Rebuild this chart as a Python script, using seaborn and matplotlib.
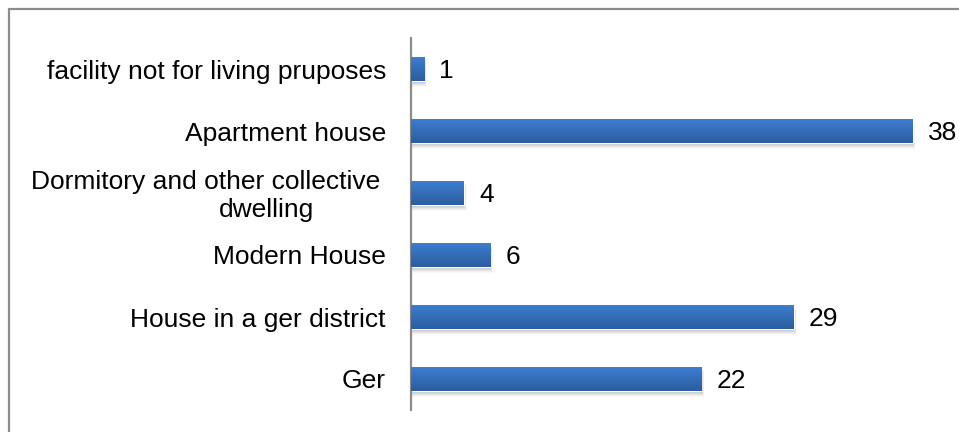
import numpy as np
import pandas as pd
import matplotlib
matplotlib.use("Agg")
import matplotlib.pyplot as plt
import seaborn as sns
from matplotlib.patches import Rectangle
from matplotlib.lines import Line2D
from matplotlib.colors import LinearSegmentedColormap

categories = [
    "facility not for living pruposes",
    "Apartment house",
    "Dormitory and other collective dwelling",
    "Modern House",
    "House in a ger district",
    "Ger",
]
values = [1, 38, 4, 6, 29, 22]

df = pd.DataFrame({"category": categories, "value": values})

sns.set_theme(style="white")
plt.rcParams["font.family"] = ["Liberation Sans", "DejaVu Sans"]

FS = 19
W, H = 959, 432
fig = plt.figure(figsize=(W / 100, H / 100), dpi=100)
ax = fig.add_axes([411 / W, 1 - 410 / H, (939 - 411) / W, (410 - 38) / H])

bar_h = 0.4
sns.barplot(data=df, x="value", y="category", orient="h", width=bar_h,
            color="#3570bd", ax=ax, saturation=1)

ax.set_xlim(0, 40)
ax.set_ylim(len(categories) - 0.5, -0.5)
ax.set_xlabel("")
ax.set_ylabel("")
ax.set_xticks([])

# gradient fill and soft drop shadow for each bar
cmap = LinearSegmentedColormap.from_list("barblue", ["#3d7fd2", "#2c5d9e"])
grad = np.linspace(0, 1, 64).reshape(-1, 1)
for patch in list(ax.patches):
    x0, y0 = patch.get_x(), patch.get_y()
    w, h = patch.get_width(), patch.get_height()
    for k, a in enumerate([0.12, 0.09, 0.07, 0.05, 0.03]):
        dy = 0.03 + 0.015 * k
        dx = 0.05 + 0.04 * k
        ax.add_patch(Rectangle((x0, y0 + dy), w + dx, h, facecolor="#555555",
                               edgecolor="none", alpha=a, zorder=1))
    patch.set_zorder(2)
    im = ax.imshow(grad, cmap=cmap, aspect="auto",
                   extent=(x0, x0 + w, y0 + h, y0), zorder=3,
                   interpolation="bilinear")
    im.set_clip_path(patch)
ax.set_xlim(0, 40)
ax.set_ylim(len(categories) - 0.5, -0.5)

# value labels
for i, v in enumerate(values):
    ax.annotate(str(v), xy=(v, i), xytext=(11, 0), textcoords="offset points",
                ha="left", va="center_baseline", fontsize=FS, color="black")

# category labels
ax.set_yticks(range(len(categories)))
labels = [c if i != 2 else "" for i, c in enumerate(categories)]
ax.set_yticklabels(labels, fontsize=FS, color="black")
for t in ax.get_yticklabels():
    t.set_verticalalignment("center_baseline")
ax.tick_params(axis="y", length=0, pad=18)
trans = matplotlib.transforms.blended_transform_factory(fig.transFigure, ax.transData)
ax.text(380 / W, 2 - 0.22, "Dormitory and other collective", transform=trans,
        ha="right", va="center_baseline", fontsize=FS, color="black")
ax.text(266 / W, 2 + 0.24, "dwelling", transform=trans,
        ha="center", va="center_baseline", fontsize=FS, color="black")

for s in ["top", "right", "bottom"]:
    ax.spines[s].set_visible(False)
ax.spines["left"].set_color("#8c8c8c")
ax.spines["left"].set_linewidth(1.6)

# chart-area border along top and left edges
fig.add_artist(Line2D([8.5 / W, 1.0], [1 - 8.5 / H, 1 - 8.5 / H],
                      transform=fig.transFigure, color="#8c8c8c", lw=1.6))
fig.add_artist(Line2D([8.5 / W, 8.5 / W], [0, 1 - 8.5 / H],
                      transform=fig.transFigure, color="#8c8c8c", lw=1.6))

fig.savefig("out.png", dpi=100, facecolor="white")
